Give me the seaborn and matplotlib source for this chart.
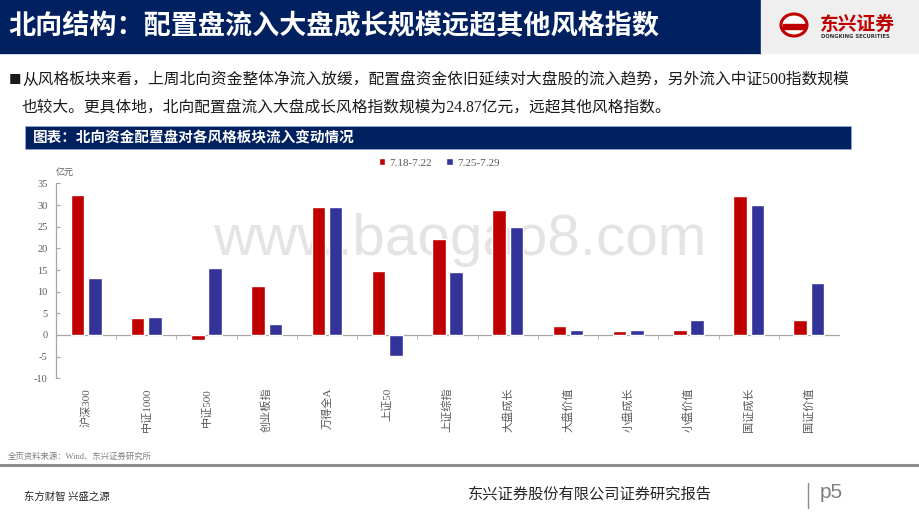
import matplotlib
matplotlib.use("Agg")
import matplotlib.pyplot as plt
from matplotlib.patches import Rectangle, Ellipse
import pandas as pd
import seaborn as sns

# ------------------- data -------------------
categories = ["沪深300", "中证1000", "中证500", "创业板指", "万得全A", "上证50", "上证综指",
              "大盘成长", "大盘价值", "小盘成长", "小盘价值", "国证成长", "国证价值"]
periods = ["7.18-7.22", "7.25-7.29"]
flow_0718 = [32.3, 4.0, -1.1, 11.2, 29.6, 14.8, 22.2, 28.8, 2.1, 1.0, 1.2, 32.1, 3.5]
flow_0725 = [13.1, 4.2, 15.5, 2.5, 29.6, -4.8, 14.6, 24.87, 1.1, 1.2, 3.4, 30.0, 12.0]
y_ticks = [-10, -5, 0, 5, 10, 15, 20, 25, 30, 35]

df = pd.DataFrame({
    "指数": categories * 2,
    "周期": [periods[0]] * len(categories) + [periods[1]] * len(categories),
    "流入": flow_0718 + flow_0725,
})

# ------------------- style -------------------
sns.set_style("white")
plt.rcParams["font.family"] = ["Noto Sans CJK SC", "DejaVu Sans"]
SERIF = ["Liberation Serif", "Noto Sans CJK SC"]
NAVY = "#002060"
RED = "#C00000"
BLUE = "#333399"
GREY_TXT = "#595959"
AXIS = "#A6A6A6"

W, H = 920, 518
fig = plt.figure(figsize=(W / 100, H / 100), dpi=100)


def fx(x):
    return x / W


def fy(y):
    return 1 - y / H


# page title bar + logo block
fig.patches.append(Rectangle((0, fy(53)), fx(761), 53 / H, transform=fig.transFigure,
                             color=NAVY, zorder=0))
fig.patches.append(Rectangle((fx(761), fy(53)), 1 - fx(761), 53 / H, transform=fig.transFigure,
                             color="#EFEFEF", zorder=0))
fig.text(fx(8), fy(26), "北向结构：配置盘流入大盘成长规模远超其他风格指数", color="white",
         fontsize=19.5, fontweight="bold", va="center", ha="left")
fig.patches.append(Ellipse((fx(794), fy(25)), 26 / W, 22 / H, transform=fig.transFigure,
                           facecolor="white", edgecolor=RED, lw=2.2, zorder=1))
fig.patches.append(Rectangle((fx(783), fy(29)), 22 / W, 5 / H, transform=fig.transFigure,
                             color=RED, zorder=2))
fig.text(fx(820), fy(24), "东兴证券", color=RED, fontsize=13.5, fontweight="bold",
         va="center", ha="left")
fig.text(fx(821), fy(37), "DONGKING SECURITIES", color="#333333", fontsize=3.8,
         fontweight="bold", va="center", ha="left", family="DejaVu Sans")

# paragraph
para_font = dict(fontsize=11.3, color="#1a1a1a", va="center", ha="left", family=SERIF)
fig.text(fx(9), fy(80), "■", fontsize=9, color="#1a1a1a", va="center", ha="left")
fig.text(fx(22), fy(80), "从风格板块来看，上周北向资金整体净流入放缓，配置盘资金依旧延续对大盘股的流入趋势，另外流入中证500指数规模",
         **para_font)
fig.text(fx(22), fy(108), "也较大。更具体地，北向配置盘流入大盘成长风格指数规模为24.87亿元，远超其他风格指数。",
         **para_font)

# chart header bar
fig.patches.append(Rectangle((fx(25), fy(149)), fx(851 - 25), 23 / H, transform=fig.transFigure,
                             facecolor=NAVY, edgecolor="#8EA9DB", lw=0.6, zorder=0))
fig.text(fx(33), fy(137.5), "图表：北向资金配置盘对各风格板块流入变动情况", color="white",
         fontsize=10.5, fontweight="bold", va="center", ha="left")

# watermark (behind the chart)
fig.text(fx(460), fy(240), "www.baogao8.com", color="#E4E4E4", fontsize=42,
         family="Liberation Sans", va="center", ha="center", zorder=-5)

# ------------------- chart -------------------
ax = fig.add_axes([fx(56), fy(378.3), fx(839 - 56), 194.9 / H])
ax.patch.set_alpha(0)
sns.barplot(data=df, x="指数", y="流入", hue="周期", palette=[RED, BLUE], saturation=1,
            width=0.575, gap=0.22, ax=ax, errorbar=None, zorder=3)

ax.set_xlim(-0.5, len(categories) - 0.5)
ax.set_ylim(-10, 35)
ax.set_yticks(y_ticks)
ax.set_yticklabels([str(t) for t in y_ticks], family=SERIF, fontsize=7.5, color=GREY_TXT)
ax.set_xlabel("")
ax.set_ylabel("")

for s in ["top", "right"]:
    ax.spines[s].set_visible(False)
ax.spines["left"].set_color(AXIS)
ax.spines["left"].set_linewidth(0.9)
ax.spines["bottom"].set_position(("data", 0))
ax.spines["bottom"].set_color(AXIS)
ax.spines["bottom"].set_linewidth(0.9)

ax.tick_params(axis="y", direction="in", length=3, color=AXIS, pad=6, left=True)
ax.set_xticks(range(len(categories)))
ax.set_xticklabels(categories, rotation=90, family=SERIF, fontsize=8, color=GREY_TXT,
                   va="top", ha="center")
ax.tick_params(axis="x", which="major", length=0, pad=38)
ax.set_xticks([i + 0.5 for i in range(len(categories) - 1)], minor=True)
ax.tick_params(axis="x", which="minor", direction="out", length=3, color=AXIS, bottom=True)

fig.text(fx(56), fy(172), "亿元", fontsize=6.5, color=GREY_TXT, va="center", ha="left")

handles, labels = ax.get_legend_handles_labels()
ax.get_legend().remove()
fig.legend(handles, labels, loc="center", bbox_to_anchor=(fx(439), fy(163)), ncol=2,
           frameon=False, prop={"family": SERIF, "size": 8}, handlelength=0.6,
           handleheight=0.6, handletextpad=0.35, columnspacing=1.3,
           labelcolor=GREY_TXT)

# ------------------- footer -------------------
fig.text(fx(8), fy(457), "全页资料来源：Wind、东兴证券研究所", fontsize=6, color="#7F7F7F",
         va="center", ha="left", family=SERIF)
fig.lines.append(plt.Line2D([0, 1], [fy(465), fy(465)], transform=fig.transFigure,
                            color="#8C8C8C", lw=2.2))
fig.text(fx(24), fy(497), "东方财智 兴盛之源", fontsize=7.5, color="#262626",
         va="center", ha="left", family=SERIF)
fig.text(fx(468), fy(494), "东兴证券股份有限公司证券研究报告", fontsize=11, color="#262626",
         va="center", ha="left", family=SERIF)
fig.lines.append(plt.Line2D([fx(808), fx(808)], [fy(483), fy(508)], transform=fig.transFigure,
                            color="#8C8C8C", lw=1))
fig.text(fx(820), fy(493), "p5", fontsize=15, color="#7F7F7F", va="center", ha="left",
         family="Liberation Sans")

fig.savefig("out.png", dpi=100)
